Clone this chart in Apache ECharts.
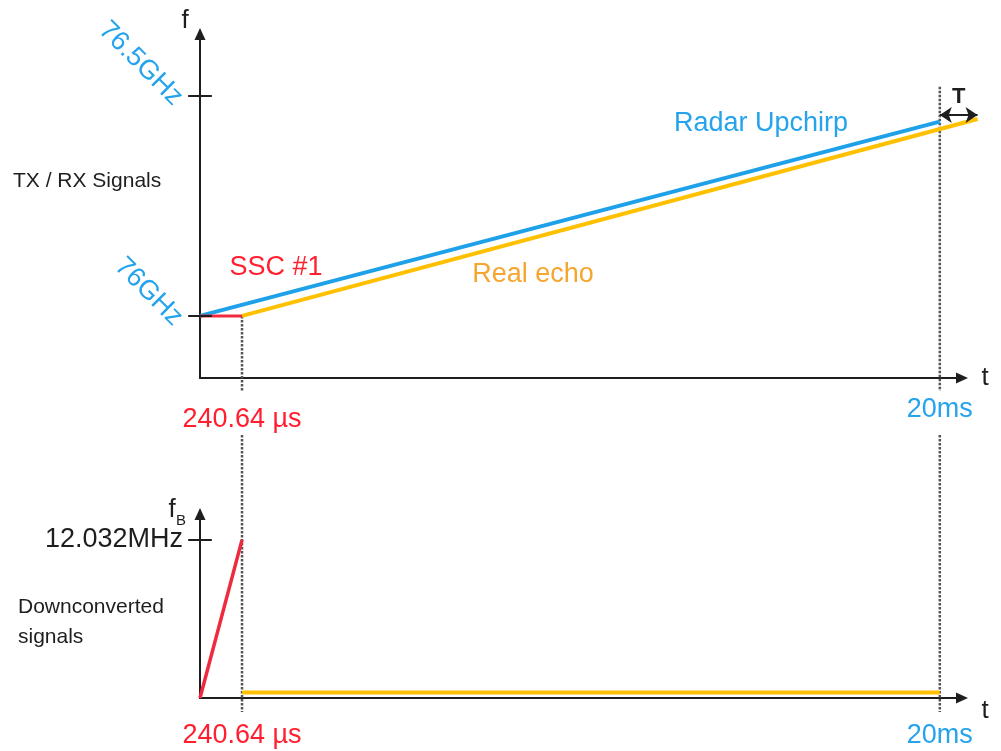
<!DOCTYPE html>
<html>
<head>
<meta charset="utf-8">
<title>TX / RX Signals</title>
<script src="https://cdn.jsdelivr.net/npm/echarts@6/dist/echarts.min.js"></script>
<style>
  html, body { margin: 0; padding: 0; background: #fff; }
  #chart { width: 1001px; height: 751px; }
</style>
</head>
<body>
<div id="chart"></div>
<script>
// schematic time axis: 20ms sits at 100, the SSC end is drawn near the origin (not to scale)
const timeMarks = [5.68, 100];
const timeLabels = ['240.64 µs', '20ms'];
const timeColors = ['#ff1f2f', '#25a3ec'];

// top panel (GHz)
const freqMarks = [76, 76.5];
const freqLabels = ['76GHz', '76.5GHz'];
const upchirp = [[0, 76], [100, 76.441]];
const echo = [[5.68, 76], [105.1, 76.447]];
const ssc = [[0, 76], [5.68, 76]];
const delayT = [[100, 76.456], [105.1, 76.456]];
const dashTop = [76, 76.52]; // where the dotted guides start in the top panel

// bottom panel (MHz)
const beatMarks = [12.032];
const beatLabels = ['12.032MHz'];
const beatSsc = [[0, 0], [5.68, 12.032]];
const beatEcho = [[5.68, 0.42], [100, 0.42]];

const FONT = '"Liberation Sans", Arial, sans-serif';
const BLUE = '#1ea1e8', RED = '#ef2a3e', YEL = '#ffc000', INK = '#1e1e1e';

const chart = echarts.init(document.getElementById('chart'));

function axisLine() {
    return {
        show: true,
        symbol: ['none', 'triangle'],
        symbolSize: [11, 12],
        lineStyle: { color: INK, width: 2 }
    };
}

// lines series are used where a segment leaves the axis range (clip off)
function segs(name, g, list, color, width, extra) {
    return Object.assign({
        name: name, type: 'lines', coordinateSystem: 'cartesian2d',
        xAxisIndex: g, yAxisIndex: g, clip: false, silent: true,
        symbol: 'none',
        lineStyle: { color: color, width: width, opacity: 1, curveness: 0 },
        data: list.map(function (c) { return { coords: c }; })
    }, extra || {});
}

// short ticks crossing the y axis
function tickSeg(v) {
    return [[-1.6, v], [1.6, v]];
}

const option = {
    backgroundColor: '#fff',
    animation: false,
    textStyle: { fontFamily: FONT },
    grid: [
        { left: 200, top: 34, width: 762, height: 344, outerBoundsMode: 'none' },
        { left: 200, top: 514, width: 762, height: 184, outerBoundsMode: 'none' }
    ],
    xAxis: [0, 1].map(function (g) {
        return {
            type: 'value', gridIndex: g, min: 0, max: 103,
            axisLine: axisLine(),
            axisTick: { show: false },
            splitLine: { show: false },
            axisLabel: {
                customValues: timeMarks,
                margin: g === 0 ? 18 : 24,
                formatter: function (v) {
                    const i = timeMarks.indexOf(v);
                    return (i === 0 ? '{r|' : '{b|') + timeLabels[i] + '}';
                },
                rich: {
                    r: { color: timeColors[0], fontSize: 27, fontFamily: FONT, padding: [g === 0 ? 10 : 0, 0, 0, 0] },
                    b: { color: timeColors[1], fontSize: 27, fontFamily: FONT }
                }
            }
        };
    }),
    yAxis: [
        {
            type: 'value', gridIndex: 0, min: 75.859, max: 76.64,
            axisLine: axisLine(),
            axisTick: { show: false },
            splitLine: { show: false },
            axisLabel: {
                customValues: freqMarks,
                rotate: -45,
                margin: 16,
                verticalAlign: 'top',
                lineHeight: 16,
                color: '#25a3ec',
                fontSize: 27,
                fontFamily: FONT,
                formatter: function (v) { return freqLabels[freqMarks.indexOf(v)]; }
            }
        },
        {
            type: 'value', gridIndex: 1, min: 0, max: 14,
            axisLine: axisLine(),
            axisTick: { show: false },
            splitLine: { show: false },
            axisLabel: {
                customValues: beatMarks,
                margin: 17,
                color: INK,
                fontSize: 27,
                fontFamily: FONT,
                formatter: function (v) { return beatLabels[beatMarks.indexOf(v)]; }
            }
        }
    ],
    series: [
        segs('Real echo', 0, [echo], YEL, 4, { z: 3 }),
        {
            name: 'Radar Upchirp', type: 'line', xAxisIndex: 0, yAxisIndex: 0,
            data: upchirp, symbol: 'none', lineStyle: { color: BLUE, width: 4 }, z: 4
        },
        {
            name: 'SSC #1', type: 'line', xAxisIndex: 0, yAxisIndex: 0,
            data: ssc, symbol: 'none', lineStyle: { color: RED, width: 3 }, z: 5
        },
        segs('delay', 0, [delayT], INK, 2, {
            symbol: ['arrow', 'arrow'], symbolSize: 12, z: 6,
            label: { show: true, position: 'middle', formatter: 'T', color: INK, fontSize: 22, fontWeight: 'bold', fontFamily: FONT, distance: 7 }
        }),
        segs('ticks top', 0, freqMarks.map(tickSeg), INK, 2, { z: 6 }),
        {
            name: 'beat SSC', type: 'line', xAxisIndex: 1, yAxisIndex: 1,
            data: beatSsc, symbol: 'none', lineStyle: { color: RED, width: 3.5 }, z: 5
        },
        {
            name: 'beat echo', type: 'line', xAxisIndex: 1, yAxisIndex: 1,
            data: beatEcho, symbol: 'none', lineStyle: { color: YEL, width: 4 }, z: 3
        },
        segs('ticks bottom', 1, beatMarks.map(tickSeg), INK, 2, { z: 6 })
    ]
};

chart.setOption(option);

// dotted guides + free text, placed from the axes' own scales
function txt(text, x, y, color, size, align, lineHeight) {
    return {
        type: 'text', x: x, y: y, silent: true, z: 10,
        style: {
            text: text, fill: color, font: size + 'px ' + FONT,
            textAlign: align || 'center', textVerticalAlign: 'middle',
            lineHeight: lineHeight || size
        }
    };
}

const graphics = [];
const topAxisY = chart.convertToPixel({ gridIndex: 0 }, [0, 75.859])[1];
const botAxisY = chart.convertToPixel({ gridIndex: 1 }, [0, 0])[1];
timeMarks.forEach(function (t, i) {
    const p = chart.convertToPixel({ gridIndex: 0 }, [t, dashTop[i]]);
    const dash = { stroke: '#555', lineWidth: 2.5, lineDash: [2.5, 1.5] };
    graphics.push({ type: 'line', silent: true, z: 1, shape: { x1: p[0], y1: p[1], x2: p[0], y2: topAxisY + 13 }, style: dash });
    graphics.push({ type: 'line', silent: true, z: 1, shape: { x1: p[0], y1: topAxisY + 57, x2: p[0], y2: botAxisY + 14 }, style: dash });
});

const o0 = chart.convertToPixel({ gridIndex: 0 }, [0, 75.859]);
const o1 = chart.convertToPixel({ gridIndex: 1 }, [0, 0]);
graphics.push(txt('f', o0[0] - 15, 21, INK, 26));
graphics.push(txt('t', 985, topAxisY, INK, 26));
graphics.push(txt('f', o1[0] - 28, 510, INK, 26));
graphics.push(txt('B', o1[0] - 19, 521, INK, 15));
graphics.push(txt('t', 985, botAxisY + 13, INK, 26));
graphics.push(txt('TX / RX Signals', 13, 181, INK, 21, 'left'));
graphics.push(txt('Downconverted\nsignals', 18, 622, INK, 21, 'left', 30));
graphics.push(txt('SSC #1', 276, 268, '#ff1f2f', 27));
graphics.push(txt('Radar Upchirp', 761, 124, '#25a3ec', 27));
graphics.push(txt('Real echo', 533, 275, '#f6a52e', 27));

chart.setOption({ graphic: graphics });
</script>
</body>
</html>
